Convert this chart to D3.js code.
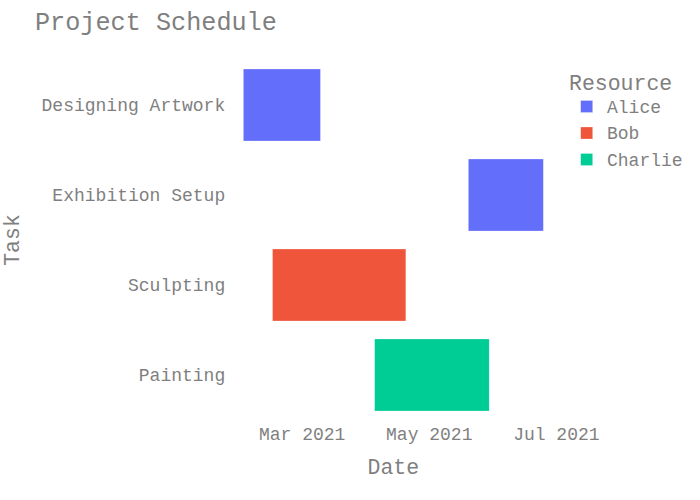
<!DOCTYPE html>
<html>
<head>
<meta charset="utf-8">
<script src="https://cdn.jsdelivr.net/npm/d3@7"></script>
<style>
  html, body { margin: 0; padding: 0; background: #fff; }
  text { font-family: "Liberation Mono", "Courier New", monospace; fill: #7f7f7f; }
</style>
</head>
<body>
<svg id="chart" width="700" height="500"></svg>
<script>
const tasks = ["Designing Artwork", "Exhibition Setup", "Sculpting", "Painting"];
const starts = ["2021-02-01", "2021-05-20", "2021-02-15", "2021-04-05"];
const finishes = ["2021-03-10", "2021-06-25", "2021-04-20", "2021-05-30"];
const resources = ["Alice", "Alice", "Bob", "Charlie"];
const resourceNames = ["Alice", "Bob", "Charlie"];
const resourceColors = ["#636efa", "#EF553B", "#00cc96"];
const tickDates = ["2021-03-01", "2021-05-01", "2021-07-01"];

const parse = d3.utcParse("%Y-%m-%d");
const rows = tasks.map((t, i) => ({ task: t, start: parse(starts[i]), end: parse(finishes[i]), res: resources[i] }));

const svg = d3.select("#chart");
const W = 700, H = 500;
const m = { l: 226.7, r: 140, t: 60, b: 80 };
const pw = W - m.l - m.r, ph = H - m.t - m.b;

const minD = d3.min(rows, d => d.start), maxD = d3.max(rows, d => d.end);
const span = maxD - minD;
const pad = span * 0.05 / 0.9;
const x = d3.scaleUtc().domain([new Date(+minD - pad), new Date(+maxD + pad)]).range([m.l, m.l + pw]);
const y = d3.scaleBand().domain(tasks).range([m.t, m.t + ph]).paddingInner(0.2).paddingOuter(0.1);
const color = d3.scaleOrdinal().domain(resourceNames).range(resourceColors);

// bars
svg.append("g").selectAll("rect").data(rows).join("rect")
  .attr("x", d => x(d.start))
  .attr("width", d => x(d.end) - x(d.start))
  .attr("y", d => y(d.task))
  .attr("height", y.bandwidth())
  .attr("fill", d => color(d.res))
  .attr("stroke", "#ffffff").attr("stroke-opacity", 0.5).attr("stroke-width", 0.5);

// x axis
const xAxis = d3.axisBottom(x).tickValues(tickDates.map(parse)).tickFormat(d3.utcFormat("%b %Y")).tickSize(0).tickPadding(0);
const gx = svg.append("g").attr("transform", `translate(0,${m.t + ph})`).call(xAxis);
gx.select(".domain").remove();
gx.selectAll("text").attr("font-size", 18).attr("dy", null).attr("y", 20)
  .style("font-family", '"Liberation Mono", monospace').attr("fill", "#7f7f7f");

// y axis
const yAxis = d3.axisLeft(y).tickSize(0).tickPadding(0);
const gy = svg.append("g").attr("transform", `translate(${m.l},0)`).call(yAxis);
gy.select(".domain").remove();
gy.selectAll("text").attr("font-size", 18).attr("x", -1.5).attr("dy", "0.35em")
  .style("font-family", '"Liberation Mono", monospace').attr("fill", "#7f7f7f");

// titles
svg.append("text").attr("x", 35).attr("y", 30).attr("font-size", 25.2).text("Project Schedule");
svg.append("text").attr("x", m.l + pw / 2).attr("y", 474).attr("text-anchor", "middle").attr("font-size", 21.5).text("Date");
svg.append("text").attr("transform", `translate(19,${m.t + ph / 2}) rotate(-90)`).attr("text-anchor", "middle").attr("font-size", 21.5).text("Task");

// legend
const lg = svg.append("g").attr("transform", "translate(569,0)");
lg.append("text").attr("x", 0).attr("y", 89.5).attr("font-size", 21.5).text("Resource");
const items = lg.selectAll("g.item").data(resourceNames).join("g").attr("class", "item")
  .attr("transform", (d, i) => `translate(0,${106.5 + i * 26.5})`);
items.append("rect").attr("x", 11.7).attr("y", -6).attr("width", 12).attr("height", 12)
  .attr("fill", d => color(d)).attr("stroke", "#ffffff").attr("stroke-opacity", 0.5).attr("stroke-width", 0.5);
items.append("text").attr("x", 38).attr("y", 0).attr("dy", "0.35em").attr("font-size", 18).text(d => d);
</script>
</body>
</html>
